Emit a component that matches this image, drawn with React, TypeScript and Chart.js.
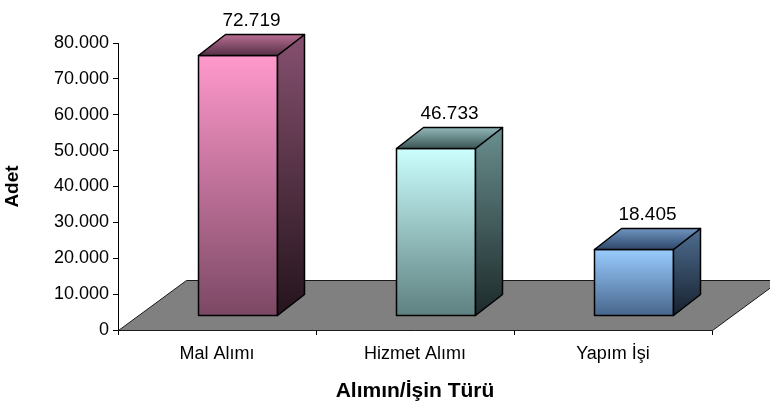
import React, { useEffect, useRef } from 'react';
import { Chart, registerables } from 'chart.js';

Chart.register(...registerables);

const categories = ['Mal Alımı', 'Hizmet Alımı', 'Yapım İşi'];
const values = [72719, 46733, 18405];
const yMax = 80000;
const yStep = 10000;
const yTitle = 'Adet';
const xTitle = 'Alımın/İşin Türü';

const frontColors = [
  ['#FF99CC', '#7C4864'],
  ['#CCFFFF', '#5E8080'],
  ['#99CCFF', '#48668C'],
];
const sideColors = [
  ['#86506F', '#24141C'],
  ['#6A8E8E', '#1C2A2A'],
  ['#4E6E92', '#17212E'],
];
const topColors = [
  ['#B86E93', '#553046'],
  ['#93B8B8', '#3B5656'],
  ['#7095C0', '#2D4768'],
];

const FONT = "'Liberation Sans', Arial, sans-serif";

function fmt(v: number): string {
  const s = Math.round(v).toString();
  return s.replace(/\B(?=(\d{3})+(?!\d))/g, '.');
}

const DEPTH_DX = 27;
const DEPTH_DY = -21;
const FLOOR_DX = 68;
const FLOOR_DY = -50;

const threeD = {
  id: 'threeD',
  beforeDatasetsDraw(chart: any) {
    const { ctx, scales } = chart;
    const xs = scales.x;
    const ys = scales.y;
    const y0 = Math.round(ys.getPixelForValue(0)) + 0.5;
    const l = Math.round(xs.left) + 0.5;
    const r = Math.round(xs.right) + 0.5;
    ctx.save();
    ctx.beginPath();
    ctx.moveTo(l, y0);
    ctx.lineTo(r, y0);
    ctx.lineTo(r + FLOOR_DX, y0 + FLOOR_DY);
    ctx.lineTo(l + FLOOR_DX, y0 + FLOOR_DY);
    ctx.closePath();
    ctx.fillStyle = '#808080';
    ctx.fill();
    ctx.strokeStyle = '#1a1a1a';
    ctx.lineWidth = 1;
    ctx.stroke();
    ctx.restore();
  },
  afterDatasetsDraw(chart: any) {
    const { ctx } = chart;
    const meta = chart.getDatasetMeta(0);
    const ox = (FLOOR_DX - DEPTH_DX) / 2;
    const oy = (FLOOR_DY - DEPTH_DY) / 2;
    meta.data.forEach((bar: any, i: number) => {
      const p = bar.getProps(['x', 'y', 'base', 'width'], true);
      const l = Math.round(p.x - p.width / 2 + ox) + 0.5;
      const r = Math.round(p.x + p.width / 2 + ox) + 0.5;
      const t = Math.round(p.y + oy) + 0.5;
      const b = Math.round(p.base + oy) + 0.5;
      ctx.save();
      ctx.lineWidth = 1.5;
      ctx.strokeStyle = '#000';
      ctx.lineJoin = 'round';
      // front
      let g = ctx.createLinearGradient(0, t, 0, b);
      g.addColorStop(0, frontColors[i][0]);
      g.addColorStop(1, frontColors[i][1]);
      ctx.beginPath();
      ctx.rect(l, t, r - l, b - t);
      ctx.fillStyle = g;
      ctx.fill();
      ctx.stroke();
      // side
      g = ctx.createLinearGradient(0, t + DEPTH_DY, 0, b);
      g.addColorStop(0, sideColors[i][0]);
      g.addColorStop(1, sideColors[i][1]);
      ctx.beginPath();
      ctx.moveTo(r, t);
      ctx.lineTo(r + DEPTH_DX, t + DEPTH_DY);
      ctx.lineTo(r + DEPTH_DX, b + DEPTH_DY);
      ctx.lineTo(r, b);
      ctx.closePath();
      ctx.fillStyle = g;
      ctx.fill();
      ctx.stroke();
      // top
      g = ctx.createLinearGradient(0, t + DEPTH_DY, 0, t);
      g.addColorStop(0, topColors[i][0]);
      g.addColorStop(1, topColors[i][1]);
      ctx.beginPath();
      ctx.moveTo(l, t);
      ctx.lineTo(l + DEPTH_DX, t + DEPTH_DY);
      ctx.lineTo(r + DEPTH_DX, t + DEPTH_DY);
      ctx.lineTo(r, t);
      ctx.closePath();
      ctx.fillStyle = g;
      ctx.fill();
      ctx.stroke();
      // value label
      ctx.fillStyle = '#000';
      ctx.font = `19px ${FONT}`;
      ctx.textAlign = 'center';
      ctx.textBaseline = 'alphabetic';
      ctx.fillText(fmt(values[i]), (l + r) / 2 + DEPTH_DX / 2, t + DEPTH_DY - 9);
      ctx.restore();
    });
  },
};

export default function App() {
  const ref = useRef<HTMLCanvasElement | null>(null);
  useEffect(() => {
    document.body.style.margin = '0';
    const canvas = ref.current;
    if (!canvas) return;
    const chart = new Chart(canvas, {
      type: 'bar',
      data: {
        labels: categories,
        datasets: [
          {
            data: values,
            backgroundColor: 'rgba(0,0,0,0)',
            borderWidth: 0,
            barPercentage: 0.8,
            categoryPercentage: 0.5,
          },
        ],
      },
      options: {
        animation: false,
        responsive: false,
        maintainAspectRatio: false,
        layout: { padding: { left: 0, top: 43, right: 58, bottom: 0 } },
        plugins: {
          legend: { display: false },
          tooltip: { enabled: false },
        },
        scales: {
          x: {
            grid: {
              display: true,
              drawOnChartArea: false,
              drawTicks: true,
              tickLength: 5,
              color: '#000',
              offset: true,
            },
            border: { display: true, color: '#000', width: 1 },
            ticks: { color: '#000', font: { family: FONT, size: 18 }, padding: 8 },
            title: {
              display: true,
              text: xTitle,
              color: '#000',
              font: { family: FONT, size: 21, weight: 'bold' },
              padding: { top: 4, bottom: 1 },
            },
            afterFit: (s: any) => {
              s.height = 75;
            },
          },
          y: {
            min: 0,
            max: yMax,
            grid: {
              display: true,
              drawOnChartArea: false,
              drawTicks: true,
              tickLength: 5,
              color: '#000',
            },
            border: { display: true, color: '#000', width: 1 },
            ticks: {
              stepSize: yStep,
              color: '#000',
              padding: 4,
              font: { family: FONT, size: 18 },
              callback: (v: any) => fmt(Number(v)),
            },
            title: {
              display: true,
              text: yTitle,
              color: '#000',
              font: { family: FONT, size: 19, weight: 'bold' },
              padding: { top: 1, bottom: 4 },
            },
            afterFit: (s: any) => {
              s.width = 118;
            },
          },
        },
      },
      plugins: [threeD],
    });
    return () => chart.destroy();
  }, []);
  return (
    <div style={{ width: 770, height: 405, position: 'relative' }}>
      <canvas ref={ref} width={770} height={405} style={{ width: 770, height: 405 }} />
    </div>
  );
}
